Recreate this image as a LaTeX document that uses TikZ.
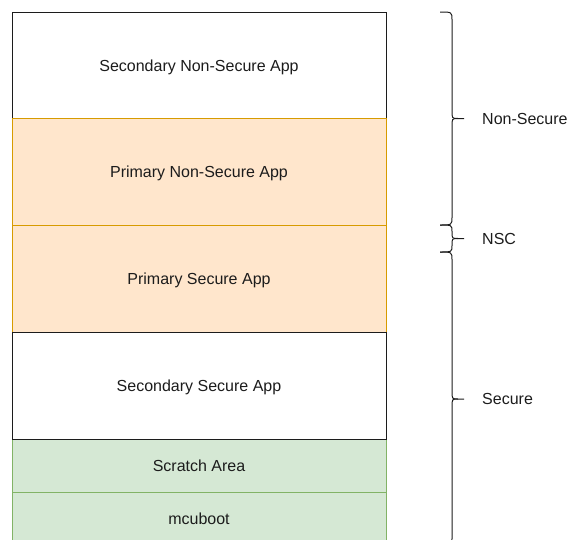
\documentclass[tikz,border=0pt]{standalone}
\usepackage{fontspec}
\setmainfont{Liberation Sans}
\usetikzlibrary{positioning,backgrounds}
\definecolor{Peach}{HTML}{FFE6CC}
\definecolor{Amber}{HTML}{D79B00}
\definecolor{Sage}{HTML}{D5E8D4}
\definecolor{Leaf}{HTML}{82B366}
\definecolor{Ink}{HTML}{1C1C1C}

\begin{document}
\begin{tikzpicture}[x=1pt,y=-1pt,
    zone/.style={draw=Ink,fill=white,line width=1pt,minimum width=374pt,minimum height=#1,
      inner sep=0pt,outer sep=0pt,text depth=0pt,text=Ink,font=\fontsize{16}{19}\selectfont},
    zone/.default=106.75pt,
    image/.style={zone,fill=Peach,draw=Amber},
    boot/.style={zone=53pt,fill=Sage,draw=Leaf},
    bracket/.style={draw=Ink,line width=1pt,line join=round},
    tag/.style={anchor=west,inner sep=4pt,text depth=0pt,text=Ink,font=\fontsize{16}{19}\selectfont}]
        \path[use as bounding box,clip] (0,0) rectangle (567,539);
        \node[zone] (ns2) at (199,65.375) {Secondary Non-Secure App};
        \node[image,below=0pt of ns2] (ns1) {Primary Non-Secure App};
        \node[image,below=0pt of ns1] (s1) {Primary Secure App};
        \node[zone,below=0pt of s1] (s2) {Secondary Secure App};
        \begin{scope}[on background layer]
          \node[boot,below=0pt of s2] (scratch) {Scratch Area};
          \node[boot,below=0pt of scratch] (mcuboot) {mcuboot};
        \end{scope}
        \foreach \t/\b/\lab/\nm in {12/225/Non-Secure/nsec,225/252/NSC/nsc,252/546/Secure/sec} {
          \pgfmathsetmacro\m{(\t+\b)/2}
          \pgfmathsetmacro\c{min(8,(\b-\t)/4)}
          \draw[bracket] (440,\t) .. controls (452,\t) .. (452,\t+\c) -- (452,\m-\c)
            .. controls (452,\m) .. (458,\m) -- (464,\m);
          \draw[bracket] (440,\b) .. controls (452,\b) .. (452,\b-\c) -- (452,\m+\c)
            .. controls (452,\m) .. (458,\m);
          \node[tag] (\nm) at (478,\m) {\lab};
        }
      \end{tikzpicture}
\end{document}
